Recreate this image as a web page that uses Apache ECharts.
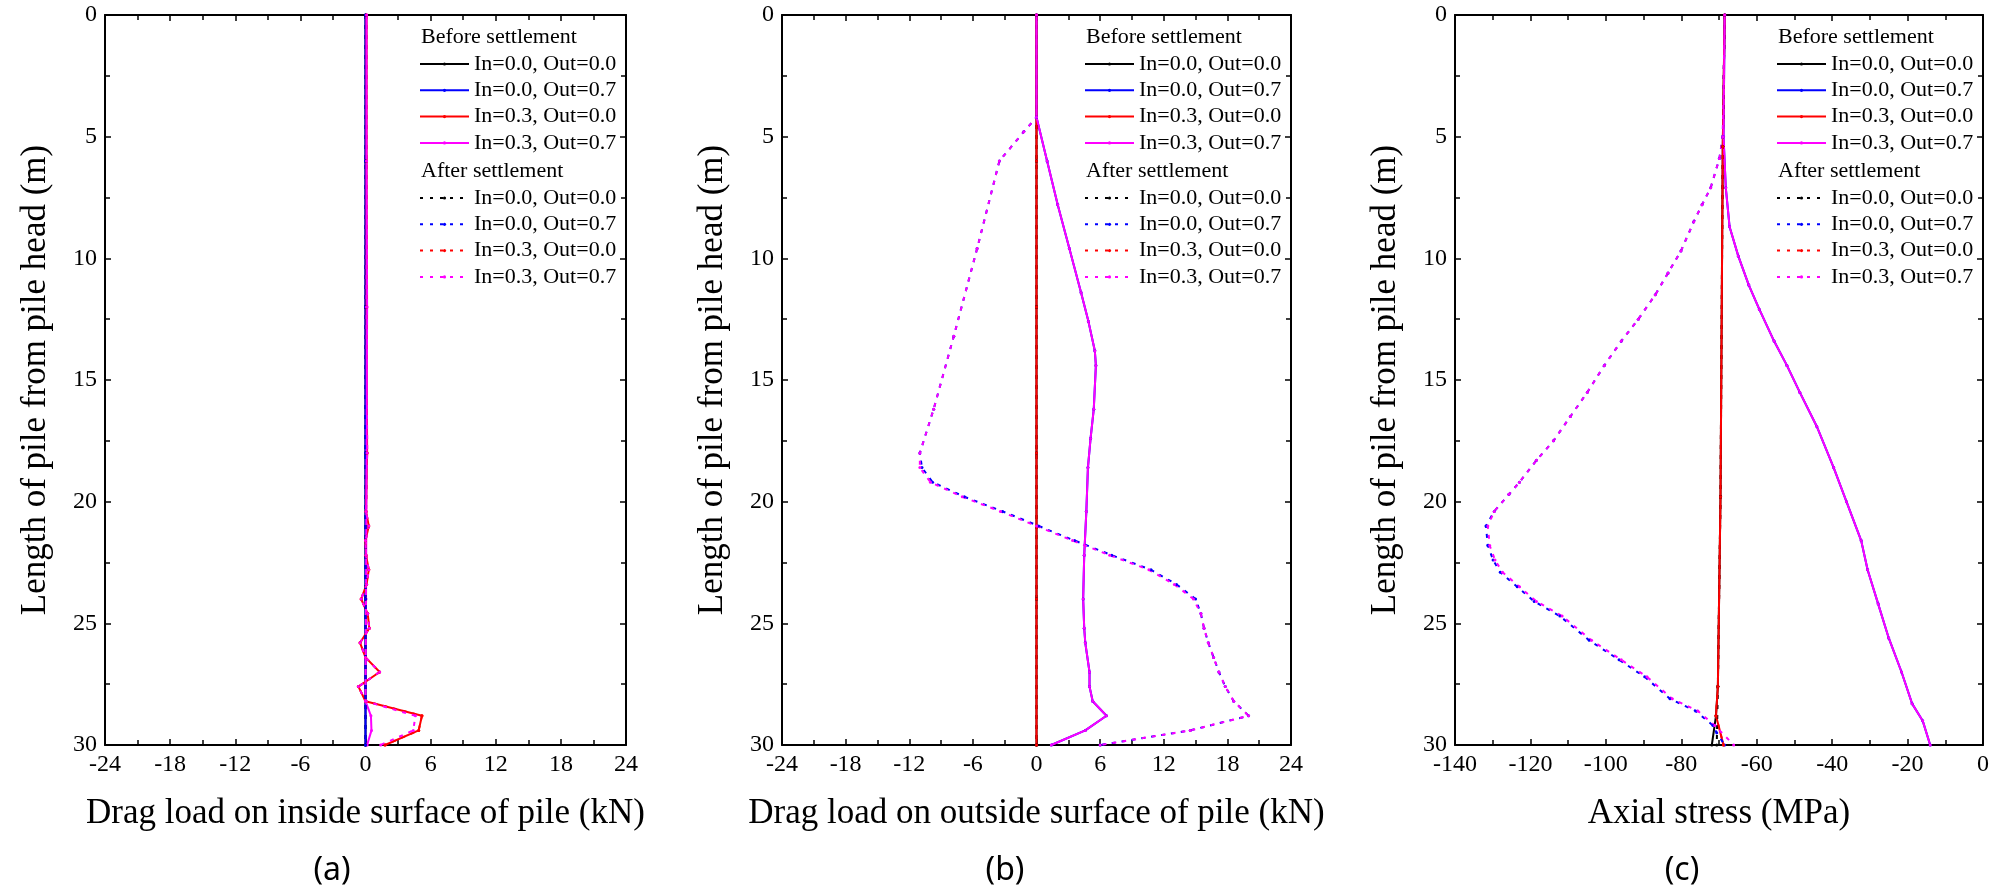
<!DOCTYPE html>
<html>
<head>
<meta charset="utf-8">
<script src="https://cdn.jsdelivr.net/npm/echarts@6/dist/echarts.min.js"></script>
<style>
  html, body { margin: 0; padding: 0; background: #fff; }
  #chart { width: 2008px; height: 892px; }
</style>
</head>
<body>
<div id="chart"></div>
<script>
// legend entries, same four cases in every panel
const caseNames = ["In=0.0, Out=0.0", "In=0.0, Out=0.7", "In=0.3, Out=0.0", "In=0.3, Out=0.7"];
const caseColors = ["#000000", "#0000ff", "#ff0000", "#ff00ff"];

// tick labels
const loadTicks = [-24, -18, -12, -6, 0, 6, 12, 18, 24];
const stressTicks = [-140, -120, -100, -80, -60, -40, -20, 0];
const depthTicks = [0, 5, 10, 15, 20, 25, 30];

// (a) drag load on inside surface [kN, depth m]
const insideBefore00 = [[0, 0], [0, 6], [0, 12], [0, 18], [0, 24], [0, 30]];
const insideBefore07 = [[0, 0], [0, 6], [0, 12], [0, 18], [0, 24], [0, 30]];
const insideBefore30 = [[0.1, 0], [0.1, 6], [0.1, 12], [0.15, 18], [0.05, 20.4], [0.3, 21], [0, 21.6], [0.05, 22.2], [0.3, 22.8], [0.1, 23.4], [-0.4, 24], [0.2, 24.6], [0.35, 25.2], [-0.5, 25.8], [0, 26.4], [1.3, 27], [-0.65, 27.6], [0, 28.2], [5.2, 28.8], [4.9, 29.4], [1.8, 30]];
const insideBefore37 = [[0.1, 0], [0.1, 6], [0.15, 12], [0.1, 18], [0.05, 24], [0, 28.2], [0.5, 28.8], [0.55, 29.4], [0.15, 30]];
const insideAfter00 = [[0, 0], [0, 6], [0, 12], [0, 18], [0, 24], [0, 30]];
const insideAfter07 = [[0, 0], [0, 6], [0, 12], [0, 18], [0, 24], [0, 30]];
const insideAfter30 = [[0.1, 0], [0.1, 6], [0.1, 12], [0.15, 18], [0.05, 20.4], [0.3, 21], [0, 21.6], [0.05, 22.2], [0.3, 22.8], [0.1, 23.4], [-0.4, 24], [0.2, 24.6], [0.35, 25.2], [-0.5, 25.8], [0, 26.4], [1.3, 27], [-0.65, 27.6], [0, 28.2], [5.2, 28.8], [4.9, 29.4], [1.8, 30]];
const insideAfter37 = [[0.1, 0], [0.1, 6], [0.1, 12], [0.15, 18], [0.05, 20.4], [0.3, 21], [0, 21.6], [0.05, 22.2], [0.3, 22.8], [0.1, 23.4], [-0.4, 24], [0.2, 24.6], [0.35, 25.2], [-0.5, 25.8], [0, 26.4], [1.3, 27], [-0.65, 27.6], [0, 28.2], [4.6, 28.8], [4.4, 29.4], [1.4, 30]];

// (b) drag load on outside surface [kN, depth m]
const outsideBefore00 = [[0, 0], [0, 6], [0, 12], [0, 18], [0, 24], [0, 30]];
const outsideBefore07 = [[0, 0], [0, 4.2], [1.0, 6.0], [2.0, 7.8], [3.1, 9.6], [4.2, 11.4], [4.9, 12.6], [5.5, 13.8], [5.6, 14.4], [5.4, 16.2], [5.1, 17.4], [4.85, 18.6], [4.7, 20.4], [4.5, 22.2], [4.4, 24.0], [4.5, 25.2], [4.6, 25.8], [5.0, 27.0], [5.0, 27.6], [5.3, 28.2], [6.6, 28.8], [4.6, 29.4], [1.4, 30]];
const outsideBefore30 = [[0, 0], [0, 6], [0, 12], [0, 18], [0, 24], [0, 30]];
const outsideBefore37 = [[0, 0], [0, 4.2], [1.0, 6.0], [2.0, 7.8], [3.1, 9.6], [4.2, 11.4], [4.9, 12.6], [5.5, 13.8], [5.6, 14.4], [5.4, 16.2], [5.1, 17.4], [4.85, 18.6], [4.7, 20.4], [4.5, 22.2], [4.4, 24.0], [4.5, 25.2], [4.6, 25.8], [5.0, 27.0], [5.0, 27.6], [5.3, 28.2], [6.6, 28.8], [4.6, 29.4], [1.4, 30]];
const outsideAfter00 = [[0, 0], [0, 6], [0, 12], [0, 18], [0, 24], [0, 30]];
const outsideAfter07 = [[0, 0], [0, 4.2], [-1.2, 4.8], [-3.5, 6.0], [-5.6, 9.6], [-7.8, 13.2], [-9.7, 16.2], [-11.0, 18.0], [-10.8, 18.6], [-9.8, 19.2], [-6.8, 19.8], [-3.2, 20.4], [0.2, 21.0], [3.6, 21.6], [7.1, 22.2], [10.8, 22.8], [13.2, 23.4], [15.0, 24.0], [15.5, 24.6], [15.8, 25.2], [16.2, 25.8], [16.7, 26.4], [17.2, 27.0], [17.8, 27.6], [18.6, 28.2], [20.0, 28.8], [14.5, 29.4], [6.0, 30]];
const outsideAfter30 = [[0, 0], [0, 6], [0, 12], [0, 18], [0, 24], [0, 30]];
const outsideAfter37 = [[0, 0], [0, 4.2], [-1.2, 4.8], [-3.5, 6.0], [-5.6, 9.6], [-7.8, 13.2], [-9.7, 16.2], [-11.0, 18.0], [-11.0, 18.6], [-10.0, 19.2], [-7.0, 19.8], [-3.4, 20.4], [0, 21.0], [3.4, 21.6], [6.9, 22.2], [10.6, 22.8], [13.0, 23.4], [14.8, 24.0], [15.5, 24.6], [15.8, 25.2], [16.2, 25.8], [16.7, 26.4], [17.2, 27.0], [17.8, 27.6], [18.6, 28.2], [20.0, 28.8], [14.5, 29.4], [6.0, 30]];

// (c) axial stress [MPa, depth m]
const stressBefore00 = [[-68.5, 0], [-69.0, 5.4], [-69.6, 19.8], [-70.3, 27.6], [-70.8, 28.8], [-71.9, 30]];
const stressBefore07 = [[-68.5, 0], [-68.8, 5.0], [-68.2, 7.1], [-67.2, 8.7], [-64.9, 9.9], [-62.1, 11.1], [-59.3, 12.1], [-55.4, 13.4], [-52.0, 14.4], [-48.6, 15.5], [-44.1, 16.9], [-39.6, 18.6], [-36.2, 20.0], [-32.3, 21.6], [-30.6, 22.8], [-27.8, 24.2], [-25.0, 25.6], [-21.6, 27.0], [-18.8, 28.3], [-16.0, 29.0], [-14.0, 30]];
const stressBefore30 = [[-68.5, 0], [-69.0, 5.4], [-69.6, 19.8], [-70.3, 27.6], [-70.8, 28.8], [-68.8, 30]];
const stressBefore37 = [[-68.5, 0], [-68.8, 5.0], [-68.2, 7.1], [-67.2, 8.7], [-64.9, 9.9], [-62.1, 11.1], [-59.3, 12.1], [-55.4, 13.4], [-52.0, 14.4], [-48.6, 15.5], [-44.1, 16.9], [-39.6, 18.6], [-36.2, 20.0], [-32.3, 21.6], [-30.6, 22.8], [-27.8, 24.2], [-25.0, 25.6], [-21.6, 27.0], [-18.8, 28.3], [-16.0, 29.0], [-14.0, 30]];
const stressAfter00 = [[-68.5, 0], [-69.0, 5.4], [-69.6, 19.8], [-70.3, 27.6], [-70.6, 30]];
const stressAfter07 = [[-68.5, 0], [-69.0, 5.0], [-69.9, 5.9], [-72.2, 7.1], [-74.5, 7.8], [-76.7, 8.5], [-80.1, 9.7], [-83.5, 10.6], [-86.9, 11.5], [-91.4, 12.5], [-95.9, 13.4], [-100.4, 14.4], [-104.9, 15.5], [-109.4, 16.5], [-113.9, 17.5], [-118.4, 18.3], [-122.9, 19.2], [-125.7, 19.7], [-129.6, 20.4], [-131.8, 21.0], [-131.3, 21.8], [-129.9, 22.4], [-128.0, 22.9], [-123.5, 23.5], [-119.0, 24.1], [-112.2, 24.7], [-104.4, 25.7], [-96.5, 26.5], [-89.7, 27.2], [-83.0, 28.1], [-76.2, 28.6], [-71.6, 29.2], [-70.6, 29.5], [-68.5, 30]];
const stressAfter30 = [[-68.5, 0], [-69.0, 5.4], [-69.6, 19.8], [-70.3, 27.6], [-70.8, 28.8], [-68.8, 30]];
const stressAfter37 = [[-68.5, 0], [-69.0, 5.0], [-69.9, 5.9], [-72.2, 7.1], [-74.5, 7.8], [-76.7, 8.5], [-80.1, 9.7], [-83.5, 10.6], [-86.9, 11.5], [-91.4, 12.5], [-95.9, 13.4], [-100.4, 14.4], [-104.9, 15.5], [-109.4, 16.5], [-113.9, 17.5], [-118.4, 18.3], [-122.9, 19.2], [-125.7, 19.7], [-129.6, 20.4], [-131.3, 21.0], [-130.8, 21.8], [-129.4, 22.4], [-127.4, 22.9], [-122.9, 23.5], [-118.4, 24.1], [-111.6, 24.7], [-103.8, 25.7], [-95.9, 26.5], [-89.1, 27.2], [-82.4, 28.1], [-75.6, 28.6], [-71.1, 29.2], [-66.1, 30]];

const panels = [
  { left: 105, width: 521, ticks: loadTicks, name: "Drag load on inside surface of pile (kN)", tag: "(a)", tagX: 332,
    before: [insideBefore00, insideBefore07, insideBefore30, insideBefore37],
    after: [insideAfter00, insideAfter07, insideAfter30, insideAfter37] },
  { left: 782, width: 509, ticks: loadTicks, name: "Drag load on outside surface of pile (kN)", tag: "(b)", tagX: 1005,
    before: [outsideBefore00, outsideBefore07, outsideBefore30, outsideBefore37],
    after: [outsideAfter00, outsideAfter07, outsideAfter30, outsideAfter37] },
  { left: 1455, width: 528, ticks: stressTicks, name: "Axial stress (MPa)", tag: "(c)", tagX: 1682,
    before: [stressBefore00, stressBefore07, stressBefore30, stressBefore37],
    after: [stressAfter00, stressAfter07, stressAfter30, stressAfter37] },
];

const serif = "Liberation Serif";
const plotTop = 15;
const plotHeight = 730;

function axisBase(grid, ticks, extra) {
  return Object.assign({
    type: "value",
    gridIndex: grid,
    min: ticks[0],
    max: ticks[ticks.length - 1],
    interval: ticks[1] - ticks[0],
    axisLine: { onZero: false, lineStyle: { color: "#000", width: 2 } },
    axisTick: { inside: true, length: 6, lineStyle: { color: "#000", width: 1.5 } },
    minorTick: { show: true, splitNumber: 2, length: 5, lineStyle: { color: "#000", width: 1.5 } },
    splitLine: { show: false },
    minorSplitLine: { show: false },
    axisLabel: { color: "#000", fontFamily: serif, fontSize: 24, margin: 8 },
  }, extra);
}

const grids = [], xAxes = [], yAxes = [], series = [], legends = [], graphics = [];

panels.forEach(function (p, i) {
  grids.push({ left: p.left, top: plotTop, width: p.width, height: plotHeight, containLabel: false, outerBoundsMode: "none" });
  // bottom + left axes carry the data, top + right just close the box
  xAxes.push(axisBase(i, p.ticks, {
    position: "bottom",
    name: p.name, nameLocation: "middle", nameGap: 51, nameMoveOverlap: false,
    nameTextStyle: { color: "#000", fontFamily: serif, fontSize: 35 },
  }));
  xAxes.push(axisBase(i, p.ticks, { position: "top", axisLabel: { show: false } }));
  yAxes.push(axisBase(i, depthTicks, {
    position: "left", inverse: true,
    name: "Length of pile from pile head (m)", nameLocation: "middle", nameGap: 52, nameMoveOverlap: false,
    nameTextStyle: { color: "#000", fontFamily: serif, fontSize: 35 },
  }));
  yAxes.push(axisBase(i, depthTicks, { position: "right", inverse: true, axisLabel: { show: false } }));

  [p.before, p.after].forEach(function (group, k) {
    group.forEach(function (data, j) {
      series.push({
        name: caseNames[j],
        type: "line",
        xAxisIndex: i * 2,
        yAxisIndex: i * 2,
        data: data,
        symbol: "circle",
        symbolSize: 3,
        showSymbol: true,
        lineStyle: { color: caseColors[j], width: 2, type: k === 0 ? "solid" : [4, 6] },
        itemStyle: { color: caseColors[j] },
        emphasis: { disabled: true },
        silent: true,
      });
    });
  });

  const legendLeft = p.left + p.width - 207;
  [["Before settlement", 37, "solid"], ["After settlement", 171, [3, 7]]].forEach(function (h) {
    graphics.push({
      type: "text", x: legendLeft + 2, y: h[1],
      style: { text: h[0], fill: "#000", fontFamily: serif, fontSize: 22, verticalAlign: "middle" },
    });
    legends.push({
      orient: "vertical", left: legendLeft, top: h[1] + 14, padding: 0,
      itemWidth: 49, itemHeight: 4, itemGap: 0.3, selectedMode: false,
      textStyle: { color: "#000", fontFamily: serif, fontSize: 22, lineHeight: 26 },
      data: caseNames.map(function (n) { return { name: n, lineStyle: { type: h[2], width: 2 } }; }),
    });
  });

  graphics.push({
    type: "text", x: p.tagX, y: 871,
    style: { text: p.tag, fill: "#000", fontFamily: "Noto Sans", fontSize: 32, align: "center", verticalAlign: "middle" },
  });
});

const chart = echarts.init(document.getElementById("chart"));
chart.setOption({
  backgroundColor: "#fff",
  animation: false,
  grid: grids,
  xAxis: xAxes,
  yAxis: yAxes,
  legend: legends,
  graphic: graphics,
  series: series,
});
</script>
</body>
</html>
